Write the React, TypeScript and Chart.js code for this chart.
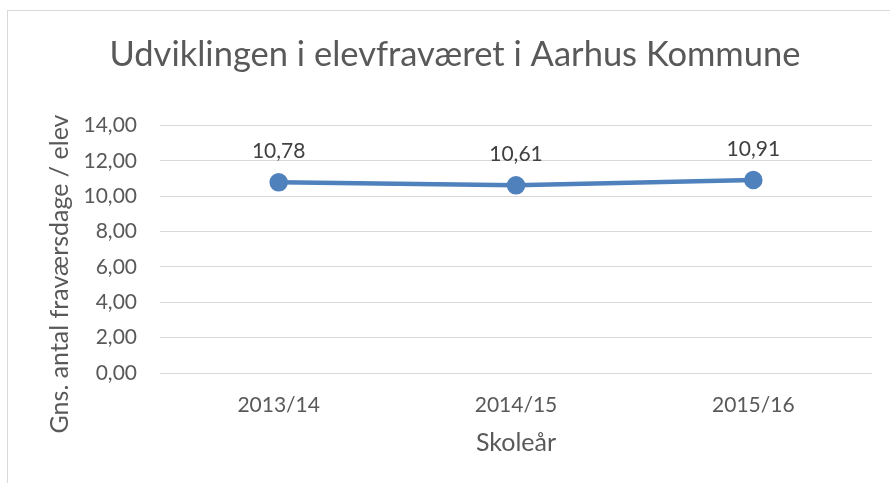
import React, { useEffect, useRef } from "react";
import { Chart, registerables } from "chart.js";

Chart.register(...registerables);

const TITLE = "Udviklingen i elevfraværet i Aarhus Kommune";
const Y_TITLE = "Gns. antal fraværsdage / elev";
const X_TITLE = "Skoleår";
const categories = ["2013/14", "2014/15", "2015/16"];
const values = [10.78, 10.61, 10.91];
const yTicks = [0, 2, 4, 6, 8, 10, 12, 14];

const FONT = "Lato, 'Open Sans', sans-serif";
const fmt = (v: number) => v.toFixed(2).replace(".", ",");

const dataLabelPlugin = {
  id: "dataLabels",
  afterDatasetsDraw(chart: any) {
    const ctx = chart.ctx;
    const meta = chart.getDatasetMeta(0);
    ctx.save();
    ctx.font = `21px ${FONT}`;
    ctx.fillStyle = "#404040";
    ctx.textAlign = "center";
    ctx.textBaseline = "middle";
    meta.data.forEach((pt: any, i: number) => {
      ctx.fillText(fmt(values[i]), pt.x, pt.y - 31);
    });
    ctx.restore();
  },
};

const yTitlePlugin = {
  id: "yTitle",
  afterDraw(chart: any) {
    const ctx = chart.ctx;
    const area = chart.chartArea;
    ctx.save();
    ctx.translate(60, area.bottom - 99);
    ctx.rotate(-Math.PI / 2);
    ctx.font = `25px ${FONT}`;
    ctx.fillStyle = "#595959";
    ctx.textAlign = "center";
    ctx.textBaseline = "middle";
    ctx.fillText(Y_TITLE, 0, 0);
    ctx.restore();
  },
};

export default function App() {
  const ref = useRef<HTMLCanvasElement>(null);
  useEffect(() => {
    if (!ref.current) return;
    const chart = new Chart(ref.current, {
      type: "line",
      data: {
        labels: categories,
        datasets: [
          {
            data: values,
            borderColor: "#4F81BD",
            backgroundColor: "#4F81BD",
            borderWidth: 4.5,
            pointRadius: 7,
            pointHoverRadius: 7,
            pointBackgroundColor: "#4F81BD",
            pointBorderColor: "#4F81BD",
            tension: 0,
          },
        ],
      },
      options: {
        animation: false,
        responsive: false,
        maintainAspectRatio: false,
        events: [],
        layout: { padding: { left: 38, right: 18, top: 0, bottom: 0 } },
        plugins: {
          legend: { display: false },
          tooltip: { enabled: false },
          title: {
            display: true,
            text: TITLE,
            color: "#595959",
            font: { family: FONT, size: 34.5, weight: "normal" },
            padding: { top: 34, bottom: 50 },
          },
        },
        scales: {
          x: {
            offset: true,
            grid: { display: false, offset: true },
            border: { display: false },
            ticks: {
              color: "#595959",
              font: { family: FONT, size: 21 },
              padding: 12,
              maxRotation: 0,
            },
            title: {
              display: true,
              text: X_TITLE,
              color: "#595959",
              font: { family: FONT, size: 25 },
              padding: { top: 0, bottom: 25 },
            },
            afterFit: (scale: any) => {
              scale.height = 110;
            },
          },
          y: {
            min: 0,
            max: 14,
            grid: { color: "#d9d9d9", lineWidth: 1, drawTicks: false },
            border: { display: false },
            afterBuildTicks: (scale: any) => {
              scale.ticks = yTicks.map((v) => ({ value: v }));
            },
            ticks: {
              color: "#595959",
              font: { family: FONT, size: 21 },
              padding: 23,
              callback: (v: any) => fmt(Number(v)),
            },
            title: { display: false },
            afterFit: (scale: any) => {
              scale.width = 122;
            },
          },
        },
      },
      plugins: [dataLabelPlugin, yTitlePlugin],
    });
    return () => chart.destroy();
  }, []);
  return (
    <div style={{ position: "fixed", left: 0, top: 0, width: 890, height: 483, background: "#fff", overflow: "hidden" }}>
      <div
        style={{
          position: "absolute",
          left: 7,
          top: 10,
          width: 900,
          height: 500,
          border: "1px solid #d9d9d9",
          boxSizing: "border-box",
        }}
      />
      <canvas ref={ref} width={890} height={483} style={{ position: "absolute", left: 0, top: 0, display: "block" }} />
    </div>
  );
}
